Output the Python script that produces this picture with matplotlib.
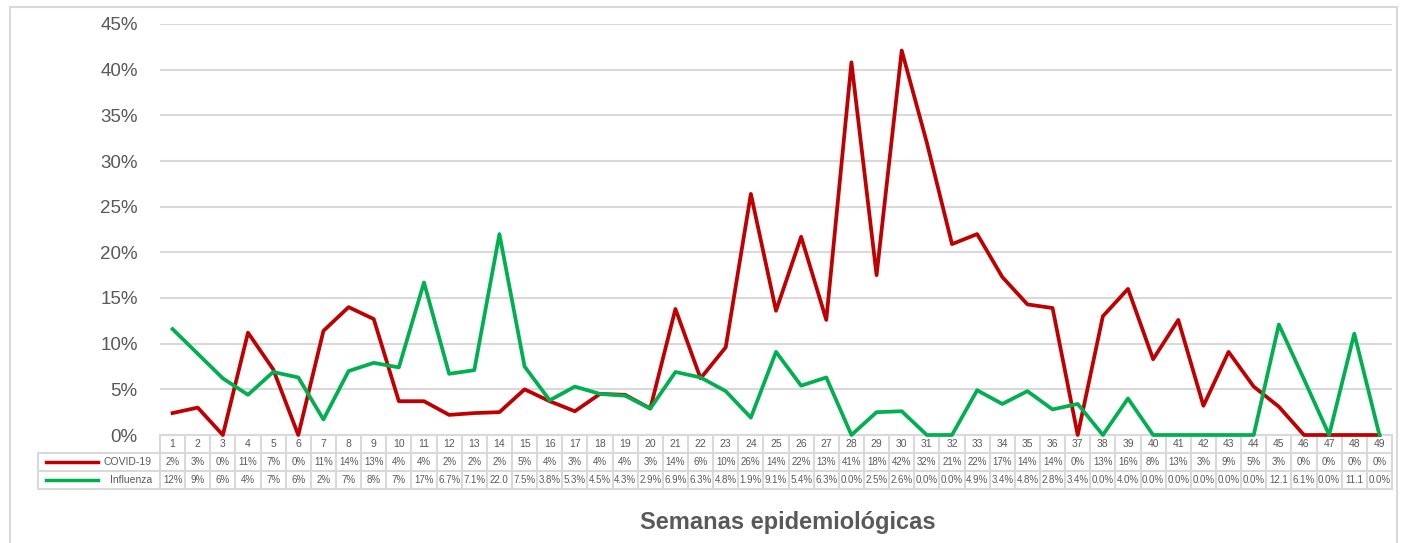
import matplotlib.pyplot as plt
from matplotlib.patches import Rectangle

plt.rcParams['font.family'] = ['Liberation Sans', 'DejaVu Sans']

weeks = list(range(1, 50))
covid = [2.4, 3.0, 0.0, 11.2, 7.2, 0.0, 11.4, 14.0, 12.7, 3.7,
         3.7, 2.2, 2.4, 2.5, 5.0, 3.7, 2.6, 4.5, 4.4, 2.9,
         13.8, 6.2, 9.6, 26.4, 13.6, 21.7, 12.6, 40.8, 17.5, 42.1,
         32.0, 20.9, 22.0, 17.3, 14.3, 13.9, 0.0, 13.0, 16.0, 8.3,
         12.6, 3.2, 9.1, 5.3, 3.1, 0.0, 0.0, 0.0, 0.0]
influenza = [11.6, 8.9, 6.2, 4.4, 6.9, 6.3, 1.7, 7.0, 7.9, 7.4,
             16.7, 6.7, 7.1, 22.0, 7.5, 3.8, 5.3, 4.5, 4.3, 2.9,
             6.9, 6.3, 4.8, 1.9, 9.1, 5.4, 6.3, 0.0, 2.5, 2.6,
             0.0, 0.0, 4.9, 3.4, 4.8, 2.8, 3.4, 0.0, 4.0, 0.0,
             0.0, 0.0, 0.0, 0.0, 12.1, 6.1, 0.0, 11.1, 0.0]
series_names = ['COVID-19', 'Influenza']
colors = ['#c00000', '#00b050']
xlabel = 'Semanas epidemiológicas'


def covid_label(v):
    return f'{v:.0f}%'


def flu_label(i, v):
    if i < 11:
        return f'{v:.0f}%'
    if v >= 10:
        return f'{v:.1f}'
    return f'{v:.1f}%'


W, H = 1406, 543
fig = plt.figure(figsize=(W / 100, H / 100), dpi=100)
ax = fig.add_axes([160 / W, 1 - 435 / H, (1392 - 160) / W, (435 - 24) / H])

grid_c = '#d9d9d9'
txt_c = '#595959'

ax.plot(weeks, covid, color=colors[0], lw=2.7, zorder=3, clip_on=False)
ax.plot(weeks, influenza, color=colors[1], lw=2.7, zorder=3, clip_on=False)

ax.set_xlim(0.5, 49.5)
ax.set_ylim(0, 45)
ax.set_yticks(range(0, 46, 5))
ax.set_yticklabels([f'{t}%' for t in range(0, 46, 5)], fontsize=13.5, color=txt_c)
ax.yaxis.grid(True, color=grid_c, lw=1.5)
ax.set_axisbelow(True)
ax.tick_params(axis='y', length=0, pad=16)
ax.set_xticks([])
for s in ax.spines.values():
    s.set_visible(False)

# data table below the axes
rh = 18.0 / (435 - 24)
tr = ax.get_xaxis_transform()
kw = dict(transform=tr, clip_on=False, color=grid_c, lw=1.5, zorder=1)
for k in range(50):
    ax.plot([k + 0.5, k + 0.5], [0, -3 * rh], **kw)
for r in range(4):
    ax.plot([0.5, 49.5], [-r * rh, -r * rh], **kw)
lx0 = 0.5 - 122 / 25.125
for r in (1, 2, 3):
    ax.plot([lx0, 0.5], [-r * rh, -r * rh], **kw)
ax.plot([lx0, lx0], [-rh, -3 * rh], **kw)

fs = 7
for i, w in enumerate(weeks):
    ax.text(w, -0.5 * rh, str(w), transform=tr, ha='center', va='center',
            fontsize=fs + 0.5, color=txt_c)
    ax.text(w, -1.5 * rh, covid_label(covid[i]), transform=tr, ha='center',
            va='center', fontsize=fs, color=txt_c)
    ax.text(w, -2.5 * rh, flu_label(i, influenza[i]), transform=tr,
            ha='center', va='center', fontsize=fs, color=txt_c)

for r, (name, c) in enumerate(zip(series_names, colors)):
    y = -(1.5 + r) * rh
    ax.plot([lx0 + 8 / 25.125, lx0 + 60 / 25.125], [y, y], transform=tr,
            clip_on=False, color=c, lw=2.5)
    ax.text(0.5 - 8 / 25.125, y, name, transform=tr, ha='right', va='center',
            fontsize=fs + 0.5, color=txt_c)

fig.text(788 / W, 1 - 522 / H, xlabel, ha='center', va='center',
         fontsize=17, fontweight='bold', color=txt_c)

fig.patches.append(Rectangle((10 / W, -0.05), (1397 - 10) / W, 1 - 7 / H + 0.05,
                             transform=fig.transFigure, fill=False,
                             edgecolor=grid_c, lw=1.5))

fig.savefig('out.png', dpi=100)
